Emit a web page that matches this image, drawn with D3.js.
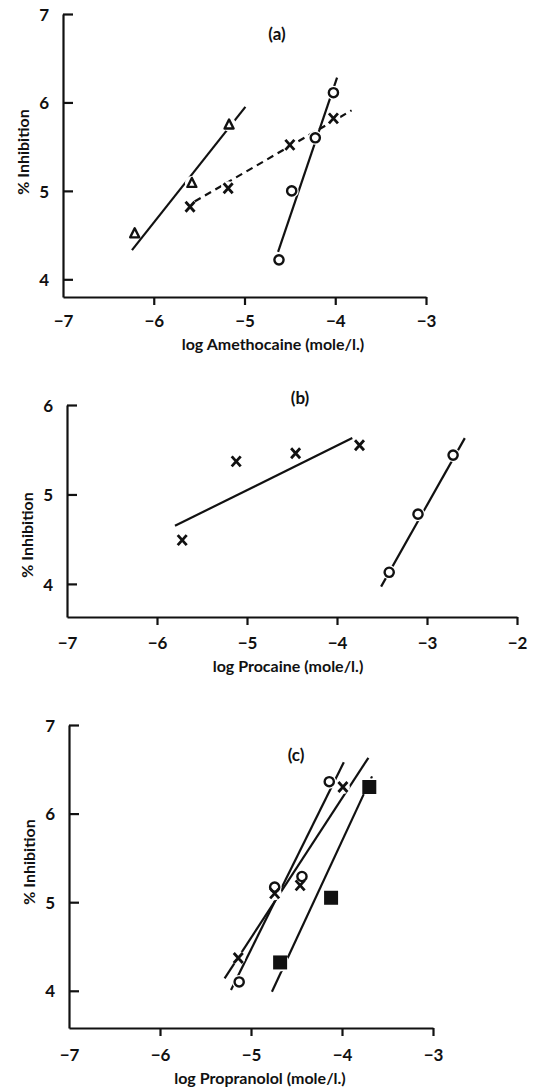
<!DOCTYPE html>
<html>
<head>
<meta charset="utf-8">
<script src="https://cdn.jsdelivr.net/npm/d3@7"></script>
<style>
  body { margin: 0; background: #fff; }
  svg { display: block; }
  .tick text { font-family: Lato, "Open Sans", sans-serif; font-weight: 700; font-size: 17px; fill: #111; }
  .axis-title { font-family: Lato, "Open Sans", sans-serif; font-weight: 700; font-size: 16px; fill: #111; }
  .panel-label { font-family: Lato, "Open Sans", sans-serif; font-weight: 700; font-size: 17px; fill: #111; }
</style>
</head>
<body>
<div id="chart"></div>
<script>
// (a) Amethocaine
const amethTicksX = [-7, -6, -5, -4, -3];
const amethTicksY = [4, 5, 6, 7];
const amethTriX = [-6.21, -5.58, -5.17];
const amethTriY = [4.52, 5.09, 5.75];
const amethCrossX = [-5.60, -5.18, -4.50, -4.02];
const amethCrossY = [4.82, 5.03, 5.52, 5.82];
const amethCircX = [-4.62, -4.48, -4.22, -4.02];
const amethCircY = [4.22, 5.00, 5.60, 6.11];
const amethTriFitX = [-6.24, -4.99];
const amethTriFitY = [4.33, 5.95];
const amethCrossFitX = [-5.55, -3.82];
const amethCrossFitY = [4.88, 5.91];
const amethCircFitX = [-4.63, -3.98];
const amethCircFitY = [4.31, 6.28];

// (b) Procaine
const procTicksX = [-7, -6, -5, -4, -3, -2];
const procTicksY = [4, 5, 6];
const procCrossX = [-5.72, -5.12, -4.46, -3.75];
const procCrossY = [4.49, 5.37, 5.46, 5.55];
const procCircX = [-3.42, -3.10, -2.71];
const procCircY = [4.13, 4.78, 5.44];
const procCrossFitX = [-5.80, -3.83];
const procCrossFitY = [4.65, 5.63];
const procCircFitX = [-3.51, -2.58];
const procCircFitY = [3.97, 5.63];

// (c) Propranolol
const propTicksX = [-7, -6, -5, -4, -3];
const propTicksY = [4, 5, 6, 7];
const propCircX = [-5.13, -4.74, -4.44, -4.14];
const propCircY = [4.10, 5.17, 5.29, 6.36];
const propCrossX = [-5.14, -4.74, -4.46, -3.99];
const propCrossY = [4.37, 5.10, 5.19, 6.30];
const propSqX = [-4.68, -4.12, -3.70];
const propSqY = [4.32, 5.05, 6.30];
const propCircFitX = [-5.22, -3.98];
const propCircFitY = [4.01, 6.58];
const propCrossFitX = [-5.29, -3.71];
const propCrossFitY = [4.14, 6.63];
const propSqFitX = [-4.77, -3.67];
const propSqFitY = [3.99, 6.42];

const width = 536;
const height = 1089;

const svg = d3.select("#chart")
    .append("svg")
    .attr("width", width)
    .attr("height", height);

const zip = (xs, ys) => xs.map((x, i) => [x, ys[i]]);

function drawPanel(p) {
    const x = d3.scaleLinear().domain(p.xDomain).range(p.xRange);
    const y = d3.scaleLinear().domain(p.yDomain).range(p.yRange);
    const g = svg.append("g");

    // y axis, ticks pointing inward
    const yAxis = g.append("g")
        .attr("transform", `translate(${p.xRange[0]},0)`)
        .call(d3.axisLeft(y).tickValues(p.ticksY).tickFormat(d3.format("d"))
            .tickSize(-10).tickSizeOuter(0).tickPadding(14));
    yAxis.selectAll(".tick text").attr("dy", "0.36em");

    const xAxis = g.append("g")
        .attr("transform", `translate(0,${p.yRange[0]})`)
        .call(d3.axisBottom(x).tickValues(p.ticksX).tickFormat(d3.format("d"))
            .tickSize(8).tickSizeOuter(0).tickPadding(p.tickPad));
    // no tick mark at the corner
    xAxis.selectAll(".tick").filter(d => d === p.xDomain[0]).select("line").remove();

    g.selectAll(".domain, .tick line")
        .attr("stroke", "#111")
        .attr("stroke-width", 2.2);

    g.append("text")
        .attr("class", "axis-title")
        .attr("x", p.xTitleX)
        .attr("y", p.yRange[0] + p.xTitleDy)
        .attr("text-anchor", "middle")
        .text(p.xTitle);

    g.append("text")
        .attr("class", "axis-title")
        .attr("transform", `translate(${p.xRange[0] - 40},${p.yTitleY}) rotate(-90)`)
        .attr("text-anchor", "middle")
        .attr("dy", "0.35em")
        .text("% Inhibition");

    g.append("text")
        .attr("class", "panel-label")
        .attr("x", p.label[0])
        .attr("y", p.label[1])
        .attr("text-anchor", "middle")
        .attr("dy", "0.35em")
        .text(p.labelText);

    const line = d3.line().x(d => x(d[0])).y(d => y(d[1]));

    p.fits.forEach(f => {
        g.append("path")
            .attr("d", line(f.pts))
            .attr("fill", "none")
            .attr("stroke", "#111")
            .attr("stroke-width", 2.2)
            .attr("stroke-dasharray", f.dash || null);
    });

    // white knock-outs so the lines break around the symbols
    p.series.forEach(s => {
        g.selectAll(null)
            .data(s.pts)
            .enter().append("circle")
            .attr("cx", d => x(d[0]))
            .attr("cy", d => y(d[1]))
            .attr("r", s.shape === "square" ? 9 : 7)
            .attr("fill", "#fff");
    });

    const symbols = {
        circle: "M4.6,0A4.6,4.6 0 1,1 -4.6,0A4.6,4.6 0 1,1 4.6,0Z",
        cross: "M-4.5,-5L4.5,5M4.5,-5L-4.5,5",
        triangle: "M0,-5L4.5,4L-4.5,4Z",
        square: "M-7,-7H7V7H-7Z"
    };

    p.series.forEach(s => {
        g.selectAll(null)
            .data(s.pts)
            .enter().append("path")
            .attr("transform", d => `translate(${x(d[0])},${y(d[1])})`)
            .attr("d", symbols[s.shape])
            .attr("fill", s.shape === "square" ? "#111" : "#fff")
            .attr("stroke", "#111")
            .attr("stroke-width", s.shape === "cross" ? 2.8 : (s.shape === "square" ? 0 : 2.4))
            .attr("stroke-linejoin", "round");
    });
}

drawPanel({
    xDomain: [-7, -3], xRange: [63, 426],
    yDomain: [3.8, 7], yRange: [297, 14],
    ticksX: amethTicksX, ticksY: amethTicksY, tickPad: 10,
    xTitle: "log Amethocaine (mole/l.)", xTitleX: 273, xTitleDy: 53,
    yTitleY: 152,
    label: [277, 34], labelText: "(a)",
    fits: [
        { pts: zip(amethTriFitX, amethTriFitY) },
        { pts: zip(amethCrossFitX, amethCrossFitY), dash: "7,5" },
        { pts: zip(amethCircFitX, amethCircFitY) }
    ],
    series: [
        { shape: "triangle", pts: zip(amethTriX, amethTriY) },
        { shape: "cross", pts: zip(amethCrossX, amethCrossY) },
        { shape: "circle", pts: zip(amethCircX, amethCircY) }
    ]
});

drawPanel({
    xDomain: [-7, -2], xRange: [67, 517],
    yDomain: [3.63, 6], yRange: [617, 405],
    ticksX: procTicksX, ticksY: procTicksY, tickPad: 12,
    xTitle: "log Procaine (mole/l.)", xTitleX: 288, xTitleDy: 55,
    yTitleY: 535,
    label: [300, 398], labelText: "(b)",
    fits: [
        { pts: zip(procCrossFitX, procCrossFitY) },
        { pts: zip(procCircFitX, procCircFitY) }
    ],
    series: [
        { shape: "cross", pts: zip(procCrossX, procCrossY) },
        { shape: "circle", pts: zip(procCircX, procCircY) }
    ]
});

drawPanel({
    xDomain: [-7, -3], xRange: [69, 433],
    yDomain: [3.58, 7], yRange: [1028, 725],
    ticksX: propTicksX, ticksY: propTicksY, tickPad: 13,
    xTitle: "log Propranolol (mole/l.)", xTitleX: 260, xTitleDy: 56,
    yTitleY: 862,
    label: [296, 755], labelText: "(c)",
    fits: [
        { pts: zip(propCircFitX, propCircFitY) },
        { pts: zip(propCrossFitX, propCrossFitY) },
        { pts: zip(propSqFitX, propSqFitY) }
    ],
    series: [
        { shape: "circle", pts: zip(propCircX, propCircY) },
        { shape: "cross", pts: zip(propCrossX, propCrossY) },
        { shape: "square", pts: zip(propSqX, propSqY) }
    ]
});
</script>
</body>
</html>
